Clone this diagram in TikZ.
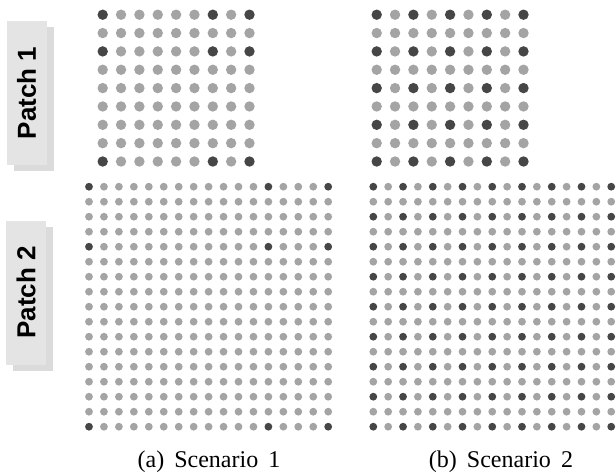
\documentclass[tikz,border=0pt]{standalone}
\usepackage{fontspec}
\setmainfont{Liberation Serif}
\setsansfont{Liberation Sans}
\usetikzlibrary{positioning}
\definecolor{dotdark}{HTML}{464646}
\definecolor{dotlight}{HTML}{A4A4A4}
\definecolor{tabfront}{HTML}{E4E4E4}
\definecolor{tabshade}{HTML}{DBDBDB}
\tikzset{
  tabbox/.style={rotate=90,minimum width=144pt,minimum height=40pt,inner sep=0pt,
    font=\sffamily\bfseries\fontsize{26}{26}\selectfont},
  caption/.style={anchor=base,font=\fontsize{24}{24}\selectfont}
}
\begin{document}
\begin{tikzpicture}[x=1pt,y=-1pt]
\useasboundingbox (0,0) rectangle (616,475);
% patch tabs
\node[tabbox,fill=tabshade] (p1s) at (33.8,98.9) {};
\node[tabbox,fill=tabfront] (p1) at (26.5,92.9) {Patch 1};
\node[tabbox,fill=tabshade] (p2s) at (33.3,298.5) {};
\node[tabbox,fill=tabfront] (p2) at (26,292.5) {Patch 2};
% patch 1, scenario 1
\foreach \r in {0,...,8}
  \foreach \c in {0,...,8}{
    \pgfmathtruncatemacro\dk{((\r==0)||(\r==2)||(\r==8))&&((\c==0)||(\c==6)||(\c==8))}
    \ifnum\dk=1 \def\col{dotdark}\else \def\col{dotlight}\fi
    \fill[\col] (102.7+18.35*\c,14.7+18.35*\r) circle[radius=5.2];
  }
% patch 1, scenario 2
\foreach \r in {0,...,8}
  \foreach \c in {0,...,8}{
    \pgfmathtruncatemacro\dk{iseven(\r)&&iseven(\c)}
    \ifnum\dk=1 \def\col{dotdark}\else \def\col{dotlight}\fi
    \fill[\col] (376.7+18.35*\c,14.7+18.35*\r) circle[radius=5.2];
  }
% patch 2, scenario 1
\foreach \r in {0,...,16}
  \foreach \c in {0,...,16}{
    \pgfmathtruncatemacro\dk{((\r==0)||(\r==4)||(\r==16))&&((\c==0)||(\c==12)||(\c==16))}
    \ifnum\dk=1 \def\col{dotdark}\else \def\col{dotlight}\fi
    \fill[\col] (89+14.95*\c,186.7+15*\r) circle[radius=3.9];
  }
% patch 2, scenario 2
\foreach \r in {0,...,16}
  \foreach \c in {0,...,16}{
    \pgfmathtruncatemacro\dk{iseven(\r)&&iseven(\c)}
    \ifnum\dk=1 \def\col{dotdark}\else \def\col{dotlight}\fi
    \fill[\col] (373.3+14.87*\c,186.7+15*\r) circle[radius=3.9];
  }
% captions
\node[caption] (capa) at (209,467) {(a)\hspace{0.42em}Scenario\hspace{0.42em}1};
\node[caption] (capb) at (501,467) {(b)\hspace{0.42em}Scenario\hspace{0.42em}2};
\end{tikzpicture}
\end{document}
